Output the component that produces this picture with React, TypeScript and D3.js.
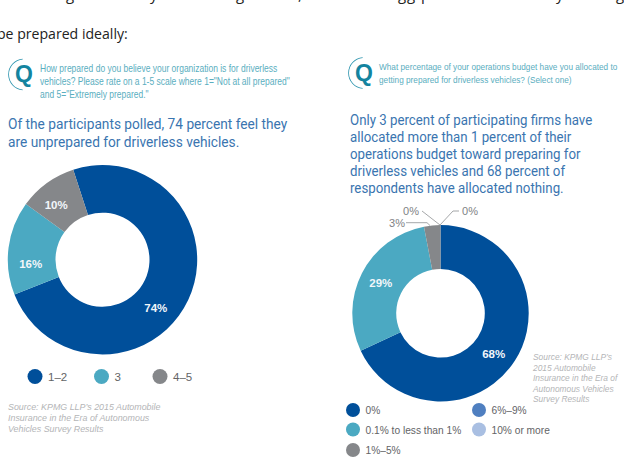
import React from 'react';
import * as d3 from 'd3';

const BLUE = '#004f9a';
const TEAL = '#4ba9c2';
const GRAY = '#85878a';
const MID_BLUE = '#4f7fc0';
const PALE_BLUE = '#a9bfe2';

// left survey: how prepared
const prepCategories = ['1–2', '3', '4–5'];
const prepValues = [74, 16, 10];
const prepColors = [BLUE, TEAL, GRAY];

// right survey: budget allocated
const budgetCategories = ['0%', '0.1% to less than 1%', '1%–5%', '6%–9%', '10% or more'];
const budgetValues = [68, 29, 3, 0, 0];
const budgetColors = [BLUE, TEAL, GRAY, MID_BLUE, PALE_BLUE];

const prepQuestion = [
  'How prepared do you believe your organization is for driverless',
  'vehicles? Please rate on a 1-5 scale where 1="Not at all prepared"',
  'and 5="Extremely prepared."',
];
const prepHeadline = [
  'Of the participants polled, 74 percent feel they',
  'are unprepared for driverless vehicles.',
];
const prepSource = [
  'Source: KPMG LLP’s 2015 Automobile',
  'Insurance in the Era of Autonomous',
  'Vehicles Survey Results',
];

const budgetQuestion = [
  'What percentage of your operations budget have you allocated to',
  'getting prepared for driverless vehicles? (Select one)',
];
const budgetHeadline = [
  'Only 3 percent of participating firms have',
  'allocated more than 1 percent of their',
  'operations budget toward preparing for',
  'driverless vehicles and 68 percent of',
  'respondents have allocated nothing.',
];
const budgetSource = [
  'Source: KPMG LLP’s',
  '2015 Automobile',
  'Insurance in the Era of',
  'Autonomous Vehicles',
  'Survey Results',
];

// bits of the previous page line that stick in at the top edge
const clippedGlyphs = ['g', 'y', 'g', ',', 'g', 'g', 'p', 'y', 'g'];
const clippedX = [66, 150, 236, 298, 398, 407, 421, 556, 616];

const SANS = '"Liberation Sans", Arial, sans-serif';
const LIGHT = 'Roboto, "Liberation Sans", sans-serif';

interface DonutProps {
  values: number[];
  colors: string[];
  cx: number;
  cy: number;
  outer: number;
  inner: number;
  start: number; // radians
  labelNudge: number[]; // degrees off the slice middle, the artwork isn't centred
  labelR: number;
}

const Donut: React.FC<DonutProps> = ({ values, colors, cx, cy, outer, inner, start, labelNudge, labelR }) => {
  const pie = d3.pie<number>().sort(null).startAngle(start).endAngle(start + 2 * Math.PI);
  const arc = d3.arc<d3.PieArcDatum<number>>().innerRadius(inner).outerRadius(outer);
  const arcs = pie(values);
  return (
    <g transform={`translate(${cx},${cy})`}>
      {arcs.map((a, i) => (
        <path key={i} d={arc(a) || ''} fill={colors[i]} />
      ))}
      {arcs.map((a, i) => {
        if (a.value < 5) return null;
        const ang = (a.startAngle + a.endAngle) / 2 + (labelNudge[i] * Math.PI) / 180;
        return (
          <text
            key={i}
            x={labelR * Math.sin(ang)}
            y={-labelR * Math.cos(ang) + 4}
            textAnchor="middle"
            fontFamily={SANS}
            fontWeight="bold"
            fontSize={11.5}
            fill="#f2f6fa"
          >
            {a.value}%
          </text>
        );
      })}
    </g>
  );
};

const QMark: React.FC<{ x: number; y: number }> = ({ x, y }) => {
  const ring = d3.arc()({
    innerRadius: 15,
    outerRadius: 15.8,
    startAngle: (-175 * Math.PI) / 180,
    endAngle: (-5 * Math.PI) / 180,
  } as any);
  return (
    <g transform={`translate(${x},${y})`}>
      <path d={ring || ''} fill="#2a93ad" />
      <text x={0} y={7.5} textAnchor="middle" fontFamily={SANS} fontWeight="bold" fontSize={23} fill="#14849f">
        Q
      </text>
    </g>
  );
};

const Lines: React.FC<{
  lines: string[];
  x: number;
  y: number;
  step: number;
  size: number;
  fill: string;
  font: string;
  italic?: boolean;
  squeeze?: number;
  weight?: number;
}> = ({ lines, x, y, step, size, fill, font, italic, squeeze = 1, weight = 400 }) => (
  <>
    {lines.map((t, i) => (
      <text
        key={i}
        transform={`translate(${x},${y + i * step}) scale(${squeeze},1)`}
        fontSize={size}
        fill={fill}
        fontFamily={font}
        fontWeight={weight}
        fontStyle={italic ? 'italic' : 'normal'}
      >
        {t}
      </text>
    ))}
  </>
);

const Legend: React.FC<{ items: string[]; colors: string[]; xs: number[]; ys: number[]; r: number; gap: number; size: number }> = ({
  items,
  colors,
  xs,
  ys,
  r,
  gap,
  size,
}) => (
  <>
    {items.map((t, i) => (
      <g key={t}>
        <circle cx={xs[i]} cy={ys[i]} r={r} fill={colors[i]} />
        <text x={xs[i] + gap} y={ys[i] + 4} fontSize={size} fontFamily={SANS} fill="#636466">
          {t}
        </text>
      </g>
    ))}
  </>
);

const App: React.FC = () => {
  const leaderColor = '#8e9093';
  return (
    <svg width={624} height={464} style={{ position: 'absolute', left: 0, top: 0, background: '#fff' }}>
      {clippedGlyphs.map((g, i) => (
        <text key={i} x={clippedX[i]} y={0} fontSize={15} fontFamily='"Open Sans", sans-serif' fill="#222">
          {g}
        </text>
      ))}
      <text x={-3} y={39} fontSize={14.1} fontFamily='"Open Sans", sans-serif' fill="#222">
        be prepared ideally:
      </text>

      {/* left panel */}
      <QMark x={24} y={74.5} />
      <Lines lines={prepQuestion} x={40} y={72} step={13} size={10} fill="#5aaec0" font={SANS} squeeze={0.85} />
      <Lines lines={prepHeadline} x={8} y={129} step={18} size={14.4} fill="#3a75b0" font={LIGHT} squeeze={0.952} />
      <Donut
        values={prepValues}
        colors={prepColors}
        cx={102.5}
        cy={259.7}
        outer={94.7}
        inner={47}
        start={(-18 * Math.PI) / 180}
        labelNudge={[17, -11, -4]}
        labelR={72}
      />
      <Legend items={prepCategories} colors={prepColors} xs={[35, 101.5, 160]} ys={[376.5, 376.5, 376.5]} r={7.5} gap={13} size={11.5} />
      <Lines lines={prepSource} x={8} y={410} step={11} size={8.9} fill="#b4b5b7" font={SANS} italic />

      {/* right panel */}
      <QMark x={364} y={73} />
      <Lines lines={budgetQuestion} x={379} y={70} step={12.5} size={9.8} fill="#5aaec0" font={SANS} squeeze={0.84} />
      <Lines lines={budgetHeadline} x={350} y={125} step={17} size={14.2} fill="#3a75b0" font={LIGHT} squeeze={0.935} />
      <Donut
        values={budgetValues}
        colors={budgetColors}
        cx={440.5}
        cy={313.3}
        outer={88.2}
        inner={44.3}
        start={0}
        labelNudge={[5, 0, 0, 0, 0]}
        labelR={67}
      />
      <g fill="none" stroke={leaderColor} strokeWidth={0.8}>
        <path d="M406,222.7H427L430,225.5" />
        <path d="M422,211L440,225" />
        <path d="M459,211H453L440,225" />
      </g>
      <g fontFamily={SANS} fontSize={11} fill="#808285">
        <text x={411} y={215} textAnchor="middle">0%</text>
        <text x={470} y={215} textAnchor="middle">0%</text>
        <text x={397} y={226.5} textAnchor="middle">3%</text>
      </g>
      <Legend
        items={budgetCategories}
        colors={budgetColors}
        xs={[353, 353, 353, 479, 479]}
        ys={[410, 429.5, 450, 410, 429.5]}
        r={7}
        gap={12.5}
        size={10.2}
      />
      <Lines lines={budgetSource} x={533} y={360} step={10.6} size={8.4} fill="#b4b5b7" font={SANS} italic />
    </svg>
  );
};

export default App;
